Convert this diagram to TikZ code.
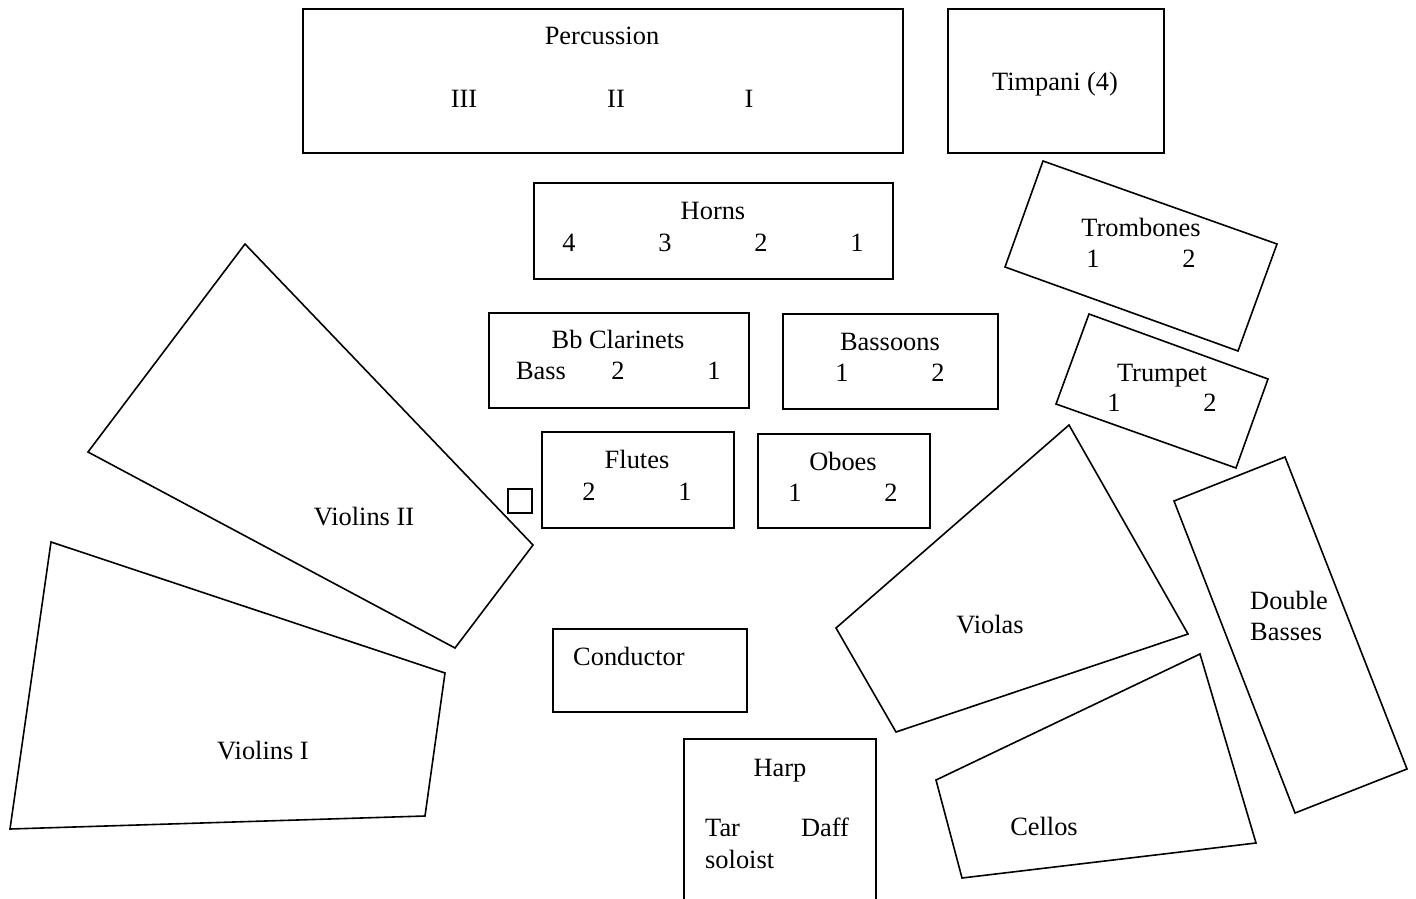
\documentclass[tikz,border=0pt]{standalone}
\usepackage{fontspec}
\setmainfont{Liberation Serif}
\begin{document}
\begin{tikzpicture}[x=1pt,y=-1pt,
  part/.style={draw=black, line width=1.6pt, line join=miter},
  lbl/.style={inner sep=0pt, anchor=base, font=\fontsize{26.4}{30.4}\selectfont},
  lblw/.style={lbl, anchor=base west}]
\useasboundingbox (0,0) rectangle (1416,899);
\clip (0,0) rectangle (1416,899);

% ---- rectangular sections ----
\draw[part] (303,9) rectangle (903,153);    % percussion
\draw[part] (948,9) rectangle (1164,153);   % timpani
\draw[part] (534,183) rectangle (893,279);  % horns
\draw[part] (489,313) rectangle (749,408);  % clarinets
\draw[part] (783,314) rectangle (998,409);  % bassoons
\draw[part] (542,432) rectangle (734,528);  % flutes
\draw[part] (758,434) rectangle (930,528);  % oboes
\draw[part] (508,489) rectangle (532,513);  % small stand
\draw[part] (553,629) rectangle (747,712);  % conductor
\draw[part] (684,739) rectangle (876,915);  % harp

% ---- tilted sections ----
\draw[part] (1043,161) -- (1277,244) -- (1238,351) -- (1005,267) -- cycle; % trombones
\draw[part] (1089,314) -- (1268,379) -- (1236,468) -- (1056,404) -- cycle; % trumpet
\draw[part] (245,244) -- (533,545) -- (455,648) -- (88,452) -- cycle;      % violins II
\draw[part] (51,542) -- (445,673) -- (425,816) -- (10,829) -- cycle;       % violins I
\draw[part] (1069,425) -- (1188,634) -- (896,732) -- (836,628) -- cycle;   % violas
\draw[part] (1174,501) -- (1285,457) -- (1407,769) -- (1295,813) -- cycle; % double basses
\draw[part] (936,780) -- (1200,654) -- (1256,843) -- (962,878) -- cycle;   % cellos

% ---- labels ----
\node[lbl] (perc) at (602,45) {Percussion};
\node[lbl] (percIII) at (464,107) {III};
\node[lbl] (percII) at (616,107) {II};
\node[lbl] (percI) at (749,107) {I};

\node[lbl] (timp) at (1055,90) {Timpani (4)};

\node[lbl] (horns) at (713,219) {Horns};
\node[lbl] (hn4) at (569,251) {4};
\node[lbl] (hn3) at (665,251) {3};
\node[lbl] (hn2) at (761,251) {2};
\node[lbl] (hn1) at (857,251) {1};

\node[lbl] (trb) at (1141,236) {Trombones};
\node[lbl] (trb1) at (1093,267) {1};
\node[lbl] (trb2) at (1189,267) {2};

\node[lbl] (tpt) at (1162,381) {Trumpet};
\node[lbl] (tpt1) at (1114,411) {1};
\node[lbl] (tpt2) at (1210,411) {2};

\node[lbl] (cl) at (618,348) {Bb Clarinets};
\node[lbl] (clB) at (541,379) {Bass};
\node[lbl] (cl2) at (618,379) {2};
\node[lbl] (cl1) at (714,379) {1};

\node[lbl] (bsn) at (890,350) {Bassoons};
\node[lbl] (bsn1) at (842,381) {1};
\node[lbl] (bsn2) at (938,381) {2};

\node[lbl] (fl) at (637,468) {Flutes};
\node[lbl] (fl2) at (589,500) {2};
\node[lbl] (fl1) at (685,500) {1};

\node[lbl] (ob) at (843,470) {Oboes};
\node[lbl] (ob1) at (795,501) {1};
\node[lbl] (ob2) at (891,501) {2};

\node[lbl] (vn2) at (364,525) {Violins II};
\node[lbl] (vn1) at (263,759) {Violins I};
\node[lblw] (cond) at (573,665) {Conductor};
\node[lbl] (vla) at (990,633) {Violas};
\node[lblw] (db1) at (1250,609) {Double};
\node[lblw] (db2) at (1250,640) {Basses};
\node[lbl] (vc) at (1044,835) {Cellos};

\node[lbl] (harp) at (780,776) {Harp};
\node[lblw] (tar) at (705,836) {Tar};
\node[lbl] (daff) at (825,836) {Daff};
\node[lblw] (solo) at (705,868) {soloist};
\end{tikzpicture}
\end{document}
